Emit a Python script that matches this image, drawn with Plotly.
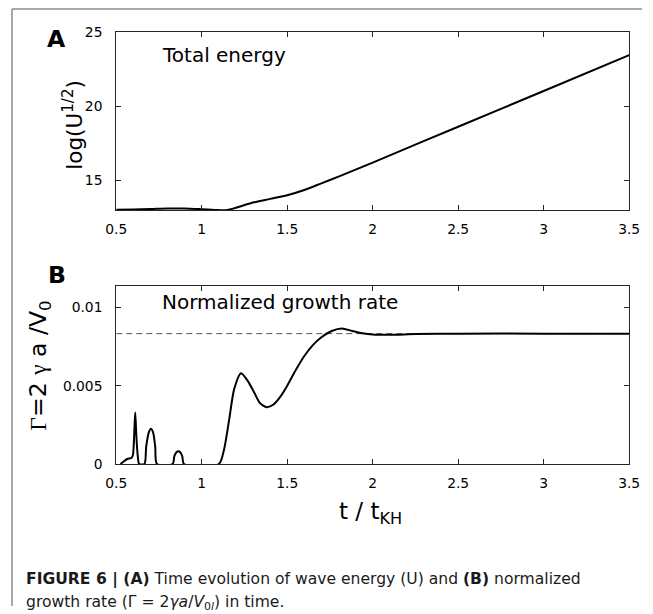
import plotly.graph_objects as go

# ---------------- data ----------------
t_energy = [0.5, 0.6, 0.7, 0.8, 0.9, 1.0, 1.1, 1.15, 1.2, 1.3, 1.4, 1.5, 1.6, 1.7, 1.8, 1.9, 2.0, 2.5, 3.0, 3.5]
log_u = [13.02, 13.03, 13.06, 13.1, 13.1, 13.05, 12.99, 13.0, 13.15, 13.5, 13.75, 14.0, 14.35, 14.8, 15.25, 15.72, 16.2, 18.62, 21.03, 23.45]

t_rate = [0.525, 0.545, 0.565, 0.59, 0.598, 0.605, 0.611, 0.618, 0.626, 0.634,
          0.665, 0.675, 0.69, 0.703, 0.716, 0.728, 0.738,
          0.83, 0.84, 0.852, 0.863, 0.874, 0.886, 0.896,
          1.1, 1.13, 1.16, 1.19, 1.23, 1.27, 1.31, 1.34, 1.38, 1.42, 1.46, 1.5,
          1.55, 1.6, 1.65, 1.7, 1.76, 1.82, 1.88, 1.94, 2.0, 2.1, 2.25, 2.5, 3.0, 3.5]
growth = [0.0, 0.00018, 0.00032, 0.0004, 0.0006, 0.0019, 0.0033, 0.0017, 0.0005, 0.0,
          0.0, 0.0011, 0.002, 0.00225, 0.002, 0.0011, 0.0,
          0.0, 0.0005, 0.00075, 0.00082, 0.00075, 0.0005, 0.0,
          0.0, 0.0009, 0.0028, 0.0048, 0.0058, 0.0053, 0.0045, 0.0039, 0.00363, 0.0038, 0.0043, 0.005,
          0.006, 0.0069, 0.0076, 0.0081, 0.0085, 0.00866, 0.0085, 0.00836, 0.00828, 0.00826, 0.0083, 0.00833, 0.00833, 0.00833]

ref_t = [0.5, 3.5]
ref_growth = [0.00833, 0.00833]

x_ticks = [0.5, 1, 1.5, 2, 2.5, 3, 3.5]
x_ticktext = ["0.5", "1", "1.5", "2", "2.5", "3", "3.5"]
y1_ticks = [15, 20, 25]
y1_ticktext = ["15", "20", "25"]
y2_ticks = [0, 0.005, 0.01]
y2_ticktext = ["0", "0.005", "0.01"]

# ---------------- figure ----------------
# Observed rendering: page has an 8px body margin and the snapshot comes out
# scaled by about 0.975, so layout is computed in target screen pixels.
S = 0.975
OFF = 8
W, H = 653, 614
FONT = "DejaVu Sans"

def px(x):
    return (x / S - OFF) / W

def py(y):
    return 1 - (y / S - OFF) / H

def fs(size):
    return size / S

fig = go.Figure()
fig.add_trace(go.Scatter(x=t_energy, y=log_u, mode="lines", line=dict(color="black", width=2, shape="spline", smoothing=0.8),
                         xaxis="x", yaxis="y", showlegend=False, hoverinfo="skip"))
fig.add_trace(go.Scatter(x=ref_t, y=ref_growth, mode="lines", line=dict(color="#555555", width=1, dash="6px,4px"),
                         xaxis="x2", yaxis="y2", showlegend=False, hoverinfo="skip"))
fig.add_trace(go.Scatter(x=t_rate, y=growth, mode="lines", line=dict(color="black", width=2, shape="spline", smoothing=0.7),
                         xaxis="x2", yaxis="y2", showlegend=False, hoverinfo="skip"))

xdom = [px(114), px(631.5)]
axis_common = dict(showline=True, linecolor="#262626", linewidth=1, mirror="allticks",
                   ticks="inside", ticklen=5, tickwidth=1, tickcolor="#262626",
                   showgrid=False, zeroline=False, tickfont=dict(family=FONT, size=fs(13.5), color="black"))

fig.update_layout(
    width=W, height=H, margin=dict(l=0, r=0, t=0, b=0),
    paper_bgcolor="white", plot_bgcolor="white",
    xaxis=dict(domain=xdom, range=[0.5, 3.5], tickvals=x_ticks, ticktext=x_ticktext, anchor="y",
               ticklabelstandoff=6, **axis_common),
    yaxis=dict(domain=[py(210), py(32)], range=[13, 25], tickvals=y1_ticks, ticktext=y1_ticktext, anchor="x",
               ticklabelstandoff=10, **axis_common),
    xaxis2=dict(domain=xdom, range=[0.5, 3.5], tickvals=x_ticks, ticktext=x_ticktext, anchor="y2",
                ticklabelstandoff=6, **axis_common),
    yaxis2=dict(domain=[py(464.3), py(285.7)], range=[0, 0.0114], tickvals=y2_ticks, ticktext=y2_ticktext, anchor="x2",
                ticklabelstandoff=10, **axis_common),
)

serif = "font-family:Liberation Serif"
ann = [
    dict(text="<b>A</b>", x=px(54), y=py(39), size=23),
    dict(text="<b>B</b>", x=px(54), y=py(275), size=23),
    dict(text="Total energy", x=px(158), y=py(55), size=19.5, xanchor="left"),
    dict(text="Normalized growth rate", x=px(158), y=py(302), size=19.5, xanchor="left"),
    dict(text="log(U<sup>1/2</sup>)", x=px(70), y=py(125), size=21, angle=-90),
    dict(text=f"<span style='{serif}'>Γ</span>=2 <span style='{serif}'>γ</span> a /V<sub>0</sub>",
         x=px(37), y=py(366), size=23, angle=-90),
    dict(text="t / t<sub>KH</sub>", x=px(371), y=py(513), size=22.5),
]
for a in ann:
    fig.add_annotation(text=a["text"], xref="paper", yref="paper", x=a["x"], y=a["y"],
                       xanchor=a.get("xanchor", "center"), yanchor="middle", showarrow=False,
                       textangle=a.get("angle", 0), font=dict(family=FONT, size=fs(a["size"]), color="black"))

cap_font = dict(family="DejaVu Sans", size=fs(15.2), color="#1a1a1a")
fig.add_annotation(text="<b>FIGURE 6 | (A)</b> Time evolution of wave energy (U) and <b>(B)</b> normalized",
                   xref="paper", yref="paper", x=px(21), y=py(580), xanchor="left", yanchor="middle",
                   showarrow=False, font=cap_font)
fig.add_annotation(text="growth rate (Γ = 2<i>γa</i>/<i>V</i><sub>0<i>l</i></sub>) in time.",
                   xref="paper", yref="paper", x=px(21), y=py(603), xanchor="left", yanchor="middle",
                   showarrow=False, font=cap_font)

# page frame (top and left edges)
fig.add_shape(type="line", xref="paper", yref="paper", x0=px(8.8), x1=1, y0=py(8.8), y1=py(8.8),
              line=dict(color="#8c8c8c", width=1.5))
fig.add_shape(type="line", xref="paper", yref="paper", x0=px(8.8), x1=px(8.8), y0=py(8.8), y1=0,
              line=dict(color="#8c8c8c", width=1.5))

fig.write_html("out.html")
